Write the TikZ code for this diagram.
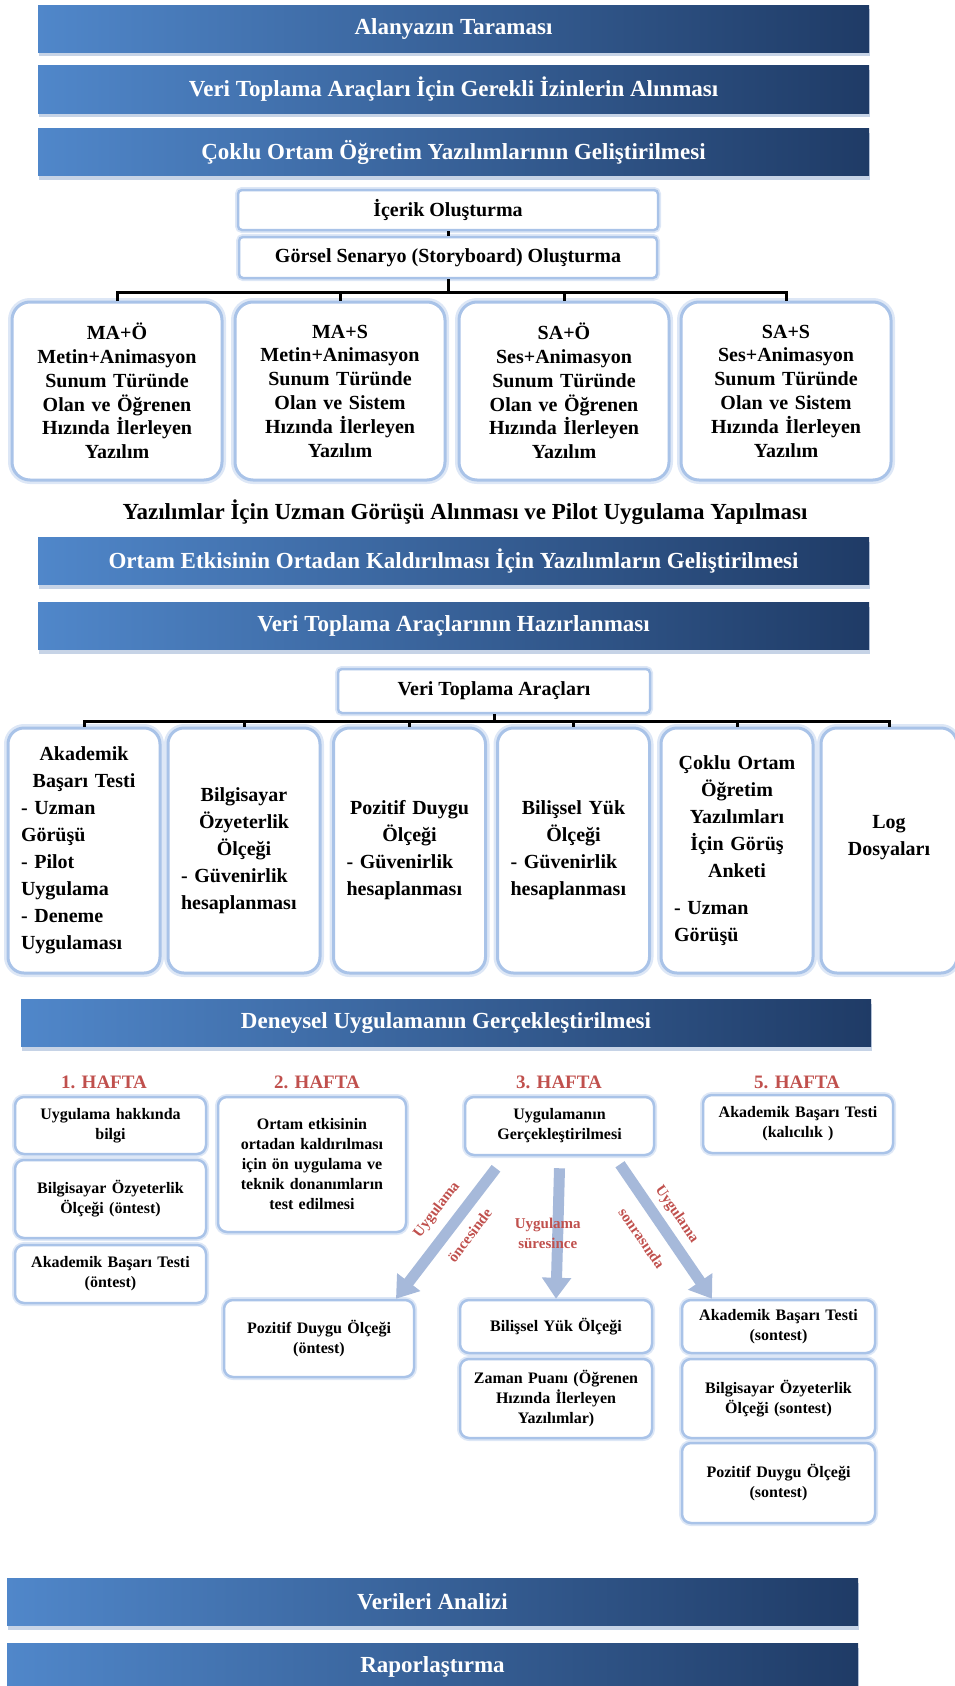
\documentclass[tikz,border=0pt]{standalone}
\usepackage{fontspec}
\setmainfont{Liberation Serif}
\usetikzlibrary{arrows.meta,shadows}
\definecolor{bannerlight}{HTML}{5087CA}
\definecolor{bannerdark}{HTML}{1F3B66}
\definecolor{bannershadow}{HTML}{C6D3E6}
\definecolor{boxedge}{HTML}{A9C3E8}
\definecolor{boxglow}{HTML}{DDE7F6}
\definecolor{weekred}{HTML}{C0504D}
\definecolor{arrowblue}{HTML}{A6B9DA}
\begin{document}
\begin{tikzpicture}[x=1pt, y=-1pt,
        banner/.style={rectangle, minimum width=831pt, minimum height=47pt, inner sep=0pt,
          left color=bannerlight, right color=bannerdark, text=white,
          font=\bfseries\fontsize{23}{27}\selectfont,
          drop shadow={shadow xshift=1pt, shadow yshift=-4pt, fill=bannershadow, opacity=1}},
        headline/.style={font=\bfseries\fontsize{23}{27}\selectfont},
        smallbox/.style={draw=boxedge, line width=2.5pt, fill=white, rounded corners=4pt,
          inner sep=0pt, font=\bfseries\fontsize{20}{24}\selectfont,
          preaction={draw=boxglow, line width=6pt}},
        bigbox/.style={draw=boxedge, line width=3pt, fill=white, rounded corners=18pt,
          inner sep=0pt, align=center, text width=190pt, minimum width=210pt, minimum height=178pt,
          font=\bfseries\fontsize{20}{23.8}\selectfont,
          preaction={draw=boxglow, line width=8pt}},
        toolbox/.style={draw=boxedge, line width=3pt, fill=white, rounded corners=16pt,
          inner sep=0pt, align=center, text width=126pt, minimum width=152pt, minimum height=245pt,
          font=\bfseries\fontsize{20}{27}\selectfont,
          preaction={draw=boxglow, line width=8pt}},
        weekbox/.style={draw=boxedge, line width=2.5pt, fill=white, rounded corners=9pt,
          inner sep=0pt, align=center, text width=174pt,
          font=\bfseries\fontsize{16}{20}\selectfont,
          preaction={draw=boxglow, line width=6pt}},
        weeklabel/.style={text=weekred, font=\bfseries\fontsize{19}{22}\selectfont},
        arrowlabel/.style={text=weekred, inner sep=2pt, font=\bfseries\fontsize{15}{20}\selectfont},
        bigarrow/.style={draw=arrowblue, line width=11pt, -{Triangle[length=21pt, width=28pt]}},
        bus/.style={draw=black, line width=3pt}]
        \def\lft#1{\makebox[126pt][l]{#1}}
        \useasboundingbox (0,0) rectangle (954,1686);

        \node[banner] (alan) at (453.5,29) {Alanyazın Taraması};
        \node[banner] (izin) at (453.5,89.5) {Veri Toplama Araçları İçin Gerekli İzinlerin Alınması};
        \node[banner] (cokl) at (453.5,152) {Çoklu Ortam Öğretim Yazılımlarının Geliştirilmesi};

        \node[smallbox, minimum width=420pt, minimum height=40pt] (icerik) at (448,210) {İçerik Oluşturma};
        \node[smallbox, minimum width=418pt, minimum height=41pt] (gorsel) at (448,257.5) {Görsel Senaryo (Storyboard) Oluşturma};
        \draw[bus] (icerik) -- (gorsel);

        \node[bigbox] (maO) at (117,391) {MA+Ö\\Metin+Animasyon\\Sunum Türünde\\Olan ve Öğrenen\\Hızında İlerleyen\\Yazılım};
        \node[bigbox] (maS) at (340,391) {MA+S\\Metin+Animasyon\\Sunum Türünde\\Olan ve Sistem\\Hızında İlerleyen\\Yazılım};
        \node[bigbox] (saO) at (564,391) {SA+Ö\\Ses+Animasyon\\Sunum Türünde\\Olan ve Öğrenen\\Hızında İlerleyen\\Yazılım};
        \node[bigbox] (saS) at (786,391) {SA+S\\Ses+Animasyon\\Sunum Türünde\\Olan ve Sistem\\Hızında İlerleyen\\Yazılım};
        \foreach \b in {maO,maS,saO,saS}
          \draw[bus] (gorsel.south) -- ++(0,13) -| (\b.north);

        \node[headline] (pilot) at (465,512) {Yazılımlar İçin Uzman Görüşü Alınması ve Pilot Uygulama Yapılması};

        \node[banner] (ortam) at (453.5,561) {Ortam Etkisinin Ortadan Kaldırılması İçin Yazılımların Geliştirilmesi};
        \node[banner] (hazir) at (453.5,626) {Veri Toplama Araçlarının Hazırlanması};

        \node[smallbox, minimum width=312pt, minimum height=44pt] (vta) at (494,691) {Veri Toplama Araçları};

        \node[toolbox] (akbt) at (84,850.5) {Akademik\\Başarı Testi\\\lft{- Uzman}\\\lft{Görüşü}\\\lft{- Pilot}\\\lft{Uygulama}\\\lft{- Deneme}\\\lft{Uygulaması}};
        \node[toolbox] (bilgoz) at (244,850.5) {Bilgisayar\\Özyeterlik\\Ölçeği\\\lft{- Güvenirlik}\\\lft{hesaplanması}};
        \node[toolbox] (pozdu) at (409.5,850.5) {Pozitif Duygu\\Ölçeği\\\lft{- Güvenirlik}\\\lft{hesaplanması}};
        \node[toolbox] (bilyuk) at (573.5,850.5) {Bilişsel Yük\\Ölçeği\\\lft{- Güvenirlik}\\\lft{hesaplanması}};
        \node[toolbox] (anket) at (737,850.5) {Çoklu Ortam\\Öğretim\\Yazılımları\\İçin Görüş\\Anketi\\[10pt]\lft{- Uzman}\\\lft{Görüşü}};
        \node[toolbox, minimum width=136pt, text width=120pt] (logd) at (889,850.5) {Log\\Dosyaları\\[4pt]\mbox{}};
        \foreach \b in {akbt,bilgoz,pozdu,bilyuk,anket,logd}
          \draw[bus] (vta.south) -- ++(0,7) -| (\b.north);

        \node[banner, minimum width=850pt] (deney) at (446,1023) {Deneysel Uygulamanın Gerçekleştirilmesi};

        \node[weeklabel] (hafta1) at (104,1082) {1. HAFTA};
        \node[weeklabel] (hafta2) at (317,1082) {2. HAFTA};
        \node[weeklabel] (hafta3) at (559,1082) {3. HAFTA};
        \node[weeklabel] (hafta5) at (797,1082) {5. HAFTA};

        \node[weekbox, minimum width=191pt, minimum height=57pt] (w1a) at (110.5,1125.5) {Uygulama hakkında\\bilgi};
        \node[weekbox, minimum width=191pt, minimum height=78pt] (w1b) at (110.5,1199) {Bilgisayar Özyeterlik\\Ölçeği (öntest)};
        \node[weekbox, minimum width=191pt, minimum height=58pt] (w1c) at (110.5,1274) {Akademik Başarı Testi\\(öntest)};
        \node[weekbox, minimum width=188pt, minimum height=135pt] (w2) at (312,1164.5) {Ortam etkisinin\\ortadan kaldırılması\\için ön uygulama ve\\teknik donanımların\\test edilmesi};
        \node[weekbox, minimum width=189pt, minimum height=58pt] (w3) at (559.5,1126) {Uygulamanın\\Gerçekleştirilmesi};
        \node[weekbox, minimum width=190pt, minimum height=58pt] (w5) at (798,1124) {Akademik Başarı Testi\\(kalıcılık )};

        \node[weekbox, minimum width=190pt, minimum height=77pt] (pozon) at (319,1338.5) {Pozitif Duygu Ölçeği\\(öntest)};
        \node[weekbox, minimum width=192pt, minimum height=53pt] (bilyukol) at (556,1326.5) {Bilişsel Yük Ölçeği};
        \node[weekbox, minimum width=192pt, minimum height=79pt] (zaman) at (556,1398.5) {Zaman Puanı (Öğrenen\\Hızında İlerleyen\\Yazılımlar)};
        \node[weekbox, minimum width=193pt, minimum height=53pt] (sonak) at (778.5,1326.5) {Akademik Başarı Testi\\(sontest)};
        \node[weekbox, minimum width=193pt, minimum height=79pt] (sonbo) at (778.5,1398.5) {Bilgisayar Özyeterlik\\Ölçeği (sontest)};
        \node[weekbox, minimum width=193pt, minimum height=80pt] (sonpo) at (778.5,1483) {Pozitif Duygu Ölçeği\\(sontest)};

        \draw[bigarrow] ([xshift=-63.5pt, yshift=-12pt]w3.south) --
          node[arrowlabel, sloped, above=7pt, pos=0.42] {Uygulama}
          node[arrowlabel, sloped, below=7pt, pos=0.42] {öncesinde} ([xshift=77pt]pozon.north);
        \draw[bigarrow] ([yshift=-12pt]w3.south) --
          node[arrowlabel, align=center, xshift=-10pt] {Uygulama\\süresince} (bilyukol.north);
        \draw[bigarrow] ([xshift=60.5pt, yshift=-8pt]w3.south) --
          node[arrowlabel, sloped, above=4pt, pos=0.45] {Uygulama}
          node[arrowlabel, sloped, below=11pt, pos=0.45] {sonrasında} ([xshift=-66.5pt]sonak.north);

        \node[banner, minimum width=851pt] (analiz) at (432.5,1602) {Verileri Analizi};
        \node[banner, minimum width=851pt] (rapor) at (432.5,1667) {Raporlaştırma};
\end{tikzpicture}
\end{document}
